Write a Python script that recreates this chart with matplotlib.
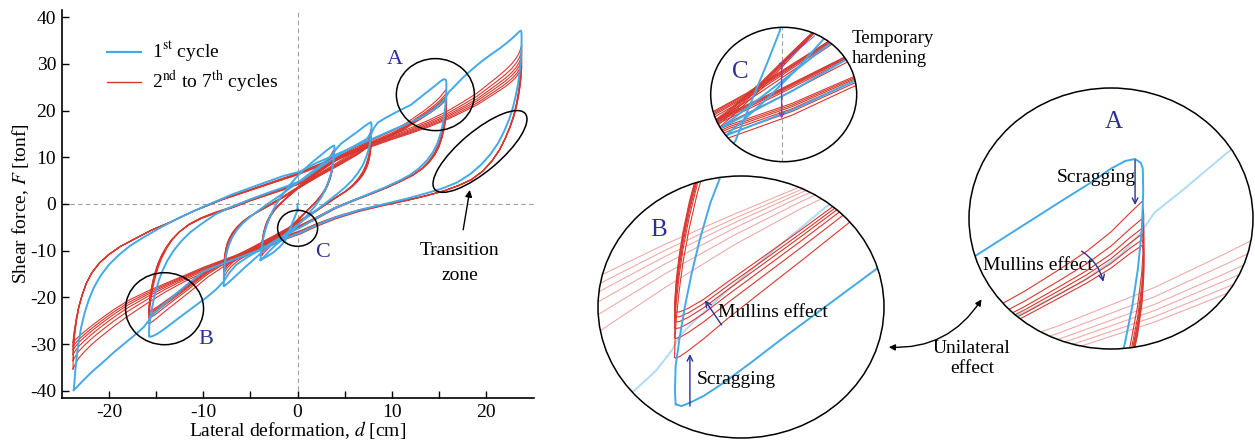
import numpy as np
import matplotlib
matplotlib.use('Agg')
import matplotlib.pyplot as plt
from matplotlib.patches import Ellipse, FancyArrowPatch
from matplotlib.transforms import ScaledTranslation

plt.rcParams['font.family'] = ['Liberation Serif', 'DejaVu Serif']
plt.rcParams['mathtext.fontset'] = 'stix'
plt.rcParams['axes.unicode_minus'] = False

BLUE = '#43a9e8'
RED = '#d9382f'
NAVY = '#2e3192'
PURPLE = '#7d3fc0'

# ------------------------------------------------------------------ data
amps = [4, 8, 16, 24]

# initial loading path of the 1st cycle
blue_init_d = [0.0, -0.02, -0.05, -0.4, -0.85, -1.33, -1.9, -2.6, -3.3, -3.92]
blue_init_F = [0.0, -0.8, -1.5, -3.3, -5.5, -7.9, -9.2, -10.4, -11.3, -12.0]

# 1st cycles (blue): upper branch (-A -> +A) and lower branch (+A -> -A)
blue_up4_d = [-3.92, -3.9, -3.84, -3.74, -3.58, -3.36, -3.06, -2.68, -2.2, -1.6, -0.9, -0.1,
              0.8, 1.7, 2.5, 3.1, 3.5, 3.75, 3.88]
blue_up4_F = [-12.0, -11.0, -9.8, -8.4, -6.8, -5.1, -3.4, -1.6, 0.2, 2.0, 3.9, 5.8,
              7.6, 9.2, 10.5, 11.5, 12.1, 12.4, 12.5]
blue_lo4_d = [3.9, 3.9, 3.87, 3.8, 3.7, 3.52, 3.28, 2.95, 2.5, 1.9, 1.2, 0.4, -0.5, -1.5,
              -2.4, -3.0, -3.45, -3.75, -3.92]
blue_lo4_F = [12.4, 11.6, 10.5, 9.2, 7.8, 6.3, 4.7, 3.1, 1.4, -0.3, -2.0, -3.8, -5.6, -7.4,
              -8.9, -10.1, -11.1, -11.7, -12.0]

blue_up8_d = [-7.82, -7.82, -7.78, -7.7, -7.55, -7.3, -6.95, -6.45, -5.8, -5.0, -4.0, -2.9,
              -1.8, -0.6, 0.5, 1.6, 2.8, 3.6, 4.1, 4.6, 5.4, 6.3, 7.0, 7.5, 7.75]
blue_up8_F = [-17.5, -16.0, -14.3, -12.5, -10.7, -8.9, -7.2, -5.6, -4.1, -2.7, -1.2, 0.4,
              1.9, 3.7, 5.3, 7.0, 8.9, 10.4, 11.8, 12.9, 14.1, 15.4, 16.5, 17.2, 17.5]
blue_lo8_d = [7.82, 7.84, 7.8, 7.7, 7.52, 7.25, 6.88, 6.38, 5.75, 5.0, 4.1, 3.1, 2.0, 0.9,
              -0.1, -1.2, -2.4, -3.6, -4.6, -5.5, -6.3, -7.0, -7.5, -7.75, -7.82]
blue_lo8_F = [17.3, 16.5, 15.0, 13.3, 11.6, 9.9, 8.2, 6.6, 5.0, 3.5, 2.0, 0.4, -1.3, -3.0,
              -4.6, -6.3, -8.1, -10.0, -11.8, -13.4, -14.9, -16.2, -17.1, -17.5, -17.5]

blue_up16_d = [-15.72, -15.74, -15.72, -15.6, -15.45, -15.25, -15.0, -14.7, -14.3, -13.8,
               -13.15, -12.35, -11.35, -10.15, -8.7, -7.0, -5.0, -3.0, -1.0, 0.5,
               2.0, 4.0, 6.0, 7.3, 7.8, 8.1, 8.5, 9.3, 10.5, 12.0,
               13.0, 14.0, 14.7, 15.1, 15.4, 15.6, 15.72]
blue_up16_F = [-28.3, -27.5, -26.0, -24.3, -22.5, -20.5, -18.4, -16.3, -14.2, -12.1,
               -10.0, -8.0, -6.0, -4.2, -2.2, -0.6, 1.0, 2.5, 3.9, 5.1,
               7.3, 10.1, 12.4, 13.9, 15.0, 16.3, 17.4, 18.4, 19.7, 21.2,
               22.8, 24.4, 25.5, 26.2, 26.6, 26.7, 26.5]
blue_lo16_d = [15.76, 15.77, 15.74, 15.66, 15.54, 15.38, 15.15, 14.82, 14.35, 13.7,
               12.9, 11.9, 10.7, 9.2, 7.5, 5.7, 3.7, 2.0, 0.3, -2.0,
               -4.0, -5.5, -6.5, -7.2, -7.8, -8.6, -9.6, -10.6, -11.6, -12.6,
               -13.5, -14.3, -14.9, -15.3, -15.55, -15.7]
blue_lo16_F = [26.2, 25.0, 23.0, 21.0, 19.0, 17.0, 15.0, 13.0, 11.1, 9.3,
               7.7, 6.2, 4.9, 3.5, 2.1, 0.6, -1.1, -3.0, -5.0, -7.4,
               -9.8, -11.6, -13.0, -14.6, -16.5, -18.2, -19.9, -21.4, -22.9, -24.4,
               -25.8, -27.0, -27.8, -28.2, -28.4, -28.3]

blue_up24_d = [-23.72, -23.65, -23.55, -23.4, -23.2, -22.95, -22.6, -22.15, -21.6, -20.9,
               -20.0, -19.0, -17.8, -16.3, -14.5, -12.5, -10.0, -7.0, -4.0, -1.5,
               0.2, 2.0, 4.0, 6.0, 8.0, 10.0, 12.0, 13.3, 14.5, 15.3,
               15.7, 16.0, 16.6, 17.5, 18.6, 19.5, 20.5, 21.5, 22.5, 23.2,
               23.5, 23.65]
blue_up24_F = [-39.8, -38.0, -35.5, -32.5, -29.5, -26.5, -23.5, -20.6, -17.9, -15.4,
               -13.0, -11.0, -9.0, -7.1, -5.0, -2.9, -0.6, 2.0, 4.2, 6.0,
               6.9, 8.8, 10.5, 12.3, 14.0, 15.8, 17.5, 18.7, 20.3, 21.7,
               22.8, 23.9, 25.1, 27.0, 29.0, 30.5, 32.0, 33.4, 35.0, 36.3,
               36.9, 37.1]
blue_lo24_d = [23.72, 23.74, 23.72, 23.65, 23.52, 23.35, 23.1, 22.8, 22.4, 21.9,
               21.3, 20.5, 19.5, 18.3, 16.9, 15.3, 13.5, 11.5, 9.0, 6.5,
               4.0, 2.0, 0.3, -1.5, -4.0, -6.0, -8.0, -10.0, -11.4, -13.0,
               -14.3, -15.2, -15.6, -15.8, -16.3, -17.0, -18.2, -19.4, -20.6, -21.8,
               -22.8, -23.4, -23.72]
blue_lo24_F = [36.8, 35.5, 33.0, 30.5, 28.0, 25.5, 23.0, 20.5, 18.0, 15.6,
               13.2, 10.8, 8.5, 6.4, 4.6, 3.3, 2.2, 1.1, -0.1, -1.3,
               -2.9, -4.5, -6.1, -7.5, -9.8, -11.3, -12.8, -14.5, -16.7, -19.4,
               -21.7, -23.4, -24.2, -25.0, -26.3, -27.6, -29.6, -31.6, -33.8, -35.9,
               -37.9, -39.2, -39.8]

# 2nd cycles (red); cycles 3-7 follow from the peak / bottom values read per cycle
red_up4_d = [-3.8, -3.79, -3.76, -3.7, -3.6, -3.45, -3.22, -2.9, -2.45, -1.85, -1.1, -0.3,
             0.6, 1.5, 2.3, 2.95, 3.4, 3.65, 3.8]
red_up4_F = [-11.0, -10.2, -9.2, -8.1, -6.9, -5.6, -4.2, -2.8, -1.4, 0.0, 1.5, 3.0,
             4.6, 6.2, 7.7, 9.0, 10.1, 10.9, 11.5]
red_lo4_d = [3.8, 3.79, 3.76, 3.7, 3.6, 3.45, 3.22, 2.9, 2.45, 1.85, 1.1, 0.3,
             -0.6, -1.5, -2.3, -2.95, -3.4, -3.65, -3.8]
red_lo4_F = [11.5, 10.7, 9.7, 8.6, 7.4, 6.1, 4.7, 3.2, 1.8, 0.3, -1.3, -3.0,
             -4.9, -6.6, -8.0, -9.2, -10.1, -10.6, -11.0]
peaks4 = [11.5, 11.0, 10.7, 10.4, 10.2, 10.0]
bottoms4 = [-11.0, -10.5, -10.2, -9.9, -9.7, -9.5]

red_up8_d = [-7.8, -7.79, -7.76, -7.7, -7.6, -7.45, -7.22, -6.9, -6.45, -5.85, -5.1, -4.2,
             -3.1, -1.8, -0.4, 1.0, 2.5, 4.0, 5.3, 6.3, 7.0, 7.45, 7.7, 7.8]
red_up8_F = [-16.0, -15.0, -13.8, -12.5, -11.1, -9.7, -8.3, -6.9, -5.5, -4.1, -2.8, -1.6,
             -0.3, 1.3, 3.1, 4.9, 6.8, 8.6, 10.3, 11.7, 13.0, 14.2, 15.3, 16.0]
red_lo8_d = [7.8, 7.79, 7.76, 7.7, 7.6, 7.45, 7.22, 6.9, 6.45, 5.85, 5.1, 4.2,
             3.1, 1.8, 0.4, -1.0, -2.5, -4.0, -5.3, -6.3, -7.0, -7.45, -7.7, -7.8]
red_lo8_F = [16.0, 15.0, 13.8, 12.5, 11.1, 9.7, 8.3, 6.9, 5.5, 4.1, 2.8, 1.5,
             0.0, -1.8, -3.7, -5.6, -7.4, -9.2, -10.8, -12.1, -13.3, -14.4, -15.3, -16.0]
peaks8 = [16.0, 15.2, 14.6, 14.2, 13.8, 13.5]
bottoms8 = [-16.0, -15.0, -14.4, -14.0, -13.6, -13.3]

red_up16_d = [-15.75, -15.74, -15.7, -15.62, -15.5, -15.32, -15.08, -14.78, -14.4, -13.9,
              -13.3, -12.5, -11.5, -10.3, -8.8, -7.0, -5.0, -3.0, -1.0, 0.5,
              2.0, 4.0, 6.0, 8.0, 10.0, 11.5, 12.5, 13.3, 14.0, 14.6,
              15.1, 15.5, 15.75]
red_up16_F = [-25.5, -24.5, -23.2, -21.6, -19.8, -17.8, -15.7, -13.6, -11.6, -9.6,
              -7.7, -5.9, -4.3, -3.0, -1.8, -0.6, 1.0, 2.4, 3.8, 5.0,
              7.0, 9.8, 12.0, 13.8, 15.6, 17.3, 18.7, 19.8, 20.9, 21.9,
              22.9, 23.9, 24.5]
red_lo16_d = [15.75, 15.78, 15.78, 15.74, 15.65, 15.5, 15.28, 14.98, 14.55, 13.95,
              13.2, 12.2, 11.0, 9.5, 7.8, 6.0, 4.0, 2.0, 0.0, -2.0,
              -4.0, -6.0, -8.0, -9.5, -10.7, -12.0, -13.2, -14.2, -14.9, -15.35,
              -15.6, -15.72, -15.75]
red_lo16_F = [24.5, 23.8, 22.5, 20.8, 19.0, 17.0, 15.0, 13.0, 11.1, 9.3,
              7.7, 6.2, 4.9, 3.5, 2.1, 0.7, -1.0, -3.2, -5.3, -7.3,
              -9.4, -11.4, -13.6, -15.6, -17.6, -19.7, -21.6, -23.2, -24.4, -25.1,
              -25.45, -25.55, -25.5]
peaks16 = [24.5, 23.6, 23.1, 22.8, 22.5, 22.2]
bottoms16 = [-25.5, -24.3, -23.7, -23.3, -23.0, -22.7]

red_up24_d = [-23.8, -23.78, -23.72, -23.62, -23.45, -23.2, -22.85, -22.4, -21.8, -21.0,
              -20.0, -18.8, -17.3, -15.5, -13.5, -11.0, -8.0, -5.0, -2.0, 0.0,
              2.0, 4.0, 6.0, 8.0, 10.0, 12.0, 14.0, 16.0, 17.5, 19.0,
              20.0, 21.0, 22.0, 22.7, 23.2, 23.5, 23.65, 23.75]
red_up24_F = [-35.3, -33.0, -30.5, -28.0, -25.2, -22.3, -19.6, -17.0, -14.7, -12.6,
              -10.8, -9.1, -7.5, -5.6, -3.9, -1.5, 1.0, 3.1, 5.2, 6.6,
              8.3, 10.0, 11.6, 13.2, 14.8, 16.3, 18.0, 20.0, 21.8, 23.7,
              25.3, 26.9, 28.6, 30.0, 31.3, 32.4, 33.3, 34.0]
red_lo24_d = [23.75, 23.72, 23.66, 23.55, 23.4, 23.2, 22.9, 22.5, 22.0, 21.4,
              20.6, 19.6, 18.4, 17.0, 15.5, 13.5, 11.5, 9.0, 6.5, 4.0,
              2.0, 0.3, -1.5, -4.0, -6.0, -8.0, -10.0, -12.0, -14.0, -16.0,
              -18.0, -19.5, -20.8, -21.8, -22.6, -23.2, -23.55, -23.8]
red_lo24_F = [34.0, 31.5, 29.0, 26.5, 24.0, 21.6, 19.0, 16.5, 14.0, 11.6,
              9.2, 7.0, 5.2, 3.9, 2.8, 1.7, 0.7, -0.4, -1.6, -3.2,
              -4.8, -6.4, -7.7, -10.0, -11.5, -13.0, -14.7, -16.6, -18.8, -21.3,
              -24.0, -26.2, -28.3, -30.0, -31.6, -33.0, -34.2, -35.3]
peaks24 = [34.0, 32.8, 31.8, 31.0, 30.2, 29.5]
bottoms24 = [-35.3, -33.5, -32.2, -31.2, -30.4, -29.6]

# share of the cycle-to-cycle spread present along each red branch
w_start4 = [1, .9, .8, .7, .6, .5, .4, .3, .2, .1, .04, 0, 0, 0, 0, 0, 0, 0, 0]
w_end4 = [0, 0, 0, 0, 0, 0, 0, 0, .03, .07, .12, .18, .26, .36, .48, .62, .76, .9, 1]
w_start8 = [1, .9, .8, .7, .6, .5, .4, .3, .2, .12, .05, 0, 0, 0, 0, 0, 0, 0, 0, 0, 0, 0, 0, 0]
w_end8 = [0, 0, 0, 0, 0, 0, 0, 0, 0, 0, 0, .03, .06, .1, .14, .18, .23, .3, .38, .48, .6,
          .74, .88, 1]
w_start16 = [1, .92, .84, .75, .65, .55, .45, .35, .25, .16, .08, .03, 0, 0, 0, 0, 0, 0, 0,
             0, 0, 0, 0, 0, 0, 0, 0, 0, 0, 0, 0, 0, 0]
wu_end16 = [0, 0, 0, 0, 0, 0, 0, 0, 0, 0, .02, .04, .06, .08, .1, .12, .14, .16, .18, .2,
            .24, .28, .32, .37, .42, .47, .52, .57, .64, .72, .82, .92, 1]
wl_end16 = [0, 0, 0, 0, 0, 0, 0, 0, 0, 0, 0, 0, .02, .04, .06, .08, .1, .13, .16, .2,
            .25, .32, .42, .52, .6, .66, .72, .78, .84, .9, .95, .98, 1]
wu_start24 = [1, .7, .45, .25, .12, .05] + [0] * 32
wu_end24 = [0] * 16 + [.02, .04, .06, .08, .1, .12, .15, .18, .22, .26, .32, .4, .47, .56,
                       .63, .7, .78, .84, .9, .94, .97, 1]
wl_start24 = [1, .75, .55, .38, .25, .15, .08, .03] + [0] * 30
wl_end24 = [0] * 16 + [.02, .04, .06, .08, .1, .12, .13, .15, .16, .17, .2, .23, .32, .45,
                       .58, .63, .67, .7, .75, .82, .9, 1]


def red_cycles(up_d, up_F, lo_d, lo_F, peaks, bottoms, wus, wue, wls, wle):
    arrs = [up_d, up_F, lo_d, lo_F, wus, wue, wls, wle]
    assert len(set(len(a) for a in arrs)) == 1
    up_F = np.asarray(up_F, float)
    lo_F = np.asarray(lo_F, float)
    loops = []
    for k in range(len(peaks)):
        dp = peaks[k] - peaks[0]
        db = bottoms[k] - bottoms[0]
        fu = up_F + np.asarray(wus) * db + np.asarray(wue) * dp
        fl = lo_F + np.asarray(wls) * dp + np.asarray(wle) * db
        loops.append((np.r_[up_d, lo_d], np.r_[fu, fl]))
    return loops


red_loops = {
    4: red_cycles(red_up4_d, red_up4_F, red_lo4_d, red_lo4_F, peaks4, bottoms4,
                  w_start4, w_end4, w_start4, w_end4),
    8: red_cycles(red_up8_d, red_up8_F, red_lo8_d, red_lo8_F, peaks8, bottoms8,
                  w_start8, w_end8, w_start8, w_end8),
    16: red_cycles(red_up16_d, red_up16_F, red_lo16_d, red_lo16_F, peaks16, bottoms16,
                   w_start16, wu_end16, w_start16, wl_end16),
    24: red_cycles(red_up24_d, red_up24_F, red_lo24_d, red_lo24_F, peaks24, bottoms24,
                   wu_start24, wu_end24, wl_start24, wl_end24),
}
blue_loops = {
    4: (blue_up4_d + blue_lo4_d, blue_up4_F + blue_lo4_F),
    8: (blue_up8_d + blue_lo8_d, blue_up8_F + blue_lo8_F),
    16: (blue_up16_d + blue_lo16_d, blue_up16_F + blue_lo16_F),
    24: (blue_up24_d + blue_lo24_d, blue_up24_F + blue_lo24_F),
}


def draw_loops(a, focus=None, clip=None, lw_r=0.8, lw_b=1.4):
    arts = []
    for amp in amps:
        light = focus is not None and amp != focus
        al = 0.42 if light else 1.0
        zr = 1 if light else 3
        for dd, ff in red_loops[amp]:
            l, = a.plot(dd, ff, color=RED, lw=lw_r, alpha=al, zorder=zr,
                        solid_joinstyle='round')
            arts.append(l)
        dd, ff = blue_loops[amp]
        l, = a.plot(dd, ff, color=BLUE, lw=lw_b, alpha=al, zorder=zr + 1,
                    solid_joinstyle='round')
        arts.append(l)
    al = 0.42 if focus not in (None, 4) else 1.0
    l, = a.plot(blue_init_d, blue_init_F, color=BLUE, lw=lw_b, alpha=al, zorder=4)
    arts.append(l)
    if clip is not None:
        for l in arts:
            l.set_clip_path(clip)
    return arts


# ------------------------------------------------------------------ figure
W, H = 1255, 442
fig = plt.figure(figsize=(W / 100, H / 100), dpi=100)


def fx(px):
    return px / W


def fy(py):
    return 1 - py / H


ax = fig.add_axes([fx(61.7), fy(398), (533.5 - 61.7) / W, (398 - 10) / H])
ax.axhline(0, color='#a0a0a0', lw=0.8, ls=(0, (4, 3)), zorder=0)
ax.axvline(0, color='#a0a0a0', lw=0.8, ls=(0, (4, 3)), zorder=0)
draw_loops(ax)

ax.set_xlim(-25, 25)
ax.set_ylim(-41.5, 41.5)
ax.set_xticks([-20, -10, 0, 10, 20])
ax.set_xticks([-15, -5, 5, 15], minor=True)
ax.set_yticks(range(-40, 41, 10))
ax.tick_params(which='both', direction='in', length=5, width=1.0, labelsize=14, pad=4)
for s in ['top', 'right']:
    ax.spines[s].set_visible(False)
for s in ['left', 'bottom']:
    ax.spines[s].set_linewidth(1.2)
ax.set_xlabel('Lateral deformation, $d$ [cm]', fontsize=14, labelpad=-1)
ax.set_ylabel('Shear force, $F$ [tonf]', fontsize=14, labelpad=-1)

# legend
ax.plot([0.0968, 0.1675], [0.8925, 0.8925], transform=ax.transAxes, color=BLUE, lw=1.6)
ax.plot([0.0968, 0.1675], [0.8137, 0.8137], transform=ax.transAxes, color=RED, lw=1.0)
ax.text(0.192, 0.8925, '1$^{\\mathrm{st}}$ cycle', transform=ax.transAxes, fontsize=14,
        va='center', ha='left')
ax.text(0.192, 0.8137, '2$^{\\mathrm{nd}}$ to 7$^{\\mathrm{th}}$ cycles',
        transform=ax.transAxes, fontsize=14, va='center', ha='left')


def px_ellipse(a, d, F, w, h, angle=0.0):
    tr = fig.dpi_scale_trans + ScaledTranslation(d, F, a.transData)
    e = Ellipse((0, 0), w / 100, h / 100, angle=angle, transform=tr, fill=False,
                ec='black', lw=1.1, zorder=6, clip_on=False)
    a.add_artist(e)


px_ellipse(ax, 14.6, 23.4, 78, 72)
px_ellipse(ax, -14.1, -22.4, 78, 72)
px_ellipse(ax, 0.0, -5.2, 40, 36)
px_ellipse(ax, 19.33, 11.24, 118, 40, angle=40)
ax.text(10.3, 31.0, 'A', color=NAVY, fontsize=16, ha='center', va='center')
ax.text(-9.7, -28.9, 'B', color=NAVY, fontsize=16, ha='center', va='center')
ax.text(2.6, -10.3, 'C', color=NAVY, fontsize=16, ha='center', va='center')
ax.annotate('', xy=(18.3, 3.6), xytext=(17.5, -6.1),
            arrowprops=dict(arrowstyle='-|>', color='black', lw=1.0, mutation_scale=10))
ax.text(17.2, -10.0, 'Transition', fontsize=14, ha='center', va='center')
ax.text(17.2, -15.2, 'zone', fontsize=14, ha='center', va='center')


# ------------------------------------------------------------------ insets
def make_inset(box, xlim, ylim, focus):
    x0, y0, x1, y1 = box
    iax = fig.add_axes([fx(x0), fy(y1), (x1 - x0) / W, (y1 - y0) / H])
    iax.set_xlim(xlim)
    iax.set_ylim(ylim)
    iax.axis('off')
    clip = Ellipse((0.5, 0.5), 1, 1, transform=iax.transAxes, facecolor='none')
    draw_loops(iax, focus, clip)
    iax.add_artist(Ellipse((0.5, 0.5), 1, 1, transform=iax.transAxes, fill=False,
                           ec='black', lw=1.1, zorder=10, clip_on=False))
    return iax, clip


# inset C
axC, clipC = make_inset((710.7, 27.3, 856.7, 161.7), (-2.04, 2.16), (-9.1, -1.3), None)
vl = axC.axvline(0, color='#a0a0a0', lw=0.8, ls=(0, (4, 3)), zorder=0)
vl.set_clip_path(clipC)
pl, = axC.plot([0.0, 0.95], [-3.4, -1.8], color=PURPLE, lw=0.6, zorder=8)
pl.set_clip_path(clipC)
axC.annotate('', xy=(0.0, -6.6), xytext=(0.0, -3.4),
             arrowprops=dict(arrowstyle=']->,widthA=0.25,lengthA=0', color=PURPLE,
                             lw=1.0, mutation_scale=8, shrinkA=0, shrinkB=0), zorder=9)
fig.text(fx(740), fy(71.7), 'C', color=NAVY, fontsize=18, ha='center', va='center')
fig.text(fx(851.7), fy(48.5), 'Temporary\nhardening', fontsize=13.5, ha='left',
         va='center', linespacing=1.3)

# inset B
axB, clipB = make_inset((598, 176, 884, 438), (-18.0, -9.6), (-30.3, -14.7), 16)
axB.annotate('', xy=(-15.3, -25.3), xytext=(-15.3, -28.4),
             arrowprops=dict(arrowstyle='->', color=NAVY, lw=1.0, shrinkA=0, shrinkB=0),
             zorder=9)
axB.annotate('', xy=(-14.86, -22.1), xytext=(-14.37, -23.57),
             arrowprops=dict(arrowstyle='->', color=NAVY, lw=1.0, shrinkA=0, shrinkB=0),
             zorder=9)
fig.text(fx(658.3), fy(230), 'B', color=NAVY, fontsize=18, ha='center', va='center')
fig.text(fx(696.7), fy(380), 'Scragging', fontsize=14, ha='left', va='center')
fig.text(fx(718), fy(312.7), 'Mullins effect', fontsize=14, ha='left', va='center')

# inset A
axA, clipA = make_inset((969, 88, 1253, 349), (12.15, 18.05), (16.8, 30.4), 16)
axA.annotate('', xy=(15.6, 24.3), xytext=(15.6, 26.65),
             arrowprops=dict(arrowstyle='->', color=NAVY, lw=1.0, shrinkA=0, shrinkB=0),
             zorder=9)
axA.annotate('', xy=(14.94, 20.3), xytext=(14.49, 21.9),
             arrowprops=dict(arrowstyle='->', color=NAVY, lw=1.0, shrinkA=0, shrinkB=0,
                             connectionstyle='arc3,rad=-0.2'), zorder=9)
fig.text(fx(1114), fy(121.7), 'A', color=NAVY, fontsize=18, ha='center', va='center')
fig.text(fx(1056.7), fy(177.7), 'Scragging', fontsize=14, ha='left', va='center')
fig.text(fx(983), fy(265.7), 'Mullins effect', fontsize=14, ha='left', va='center')

# unilateral effect
fig.text(fx(972), fy(358.5), 'Unilateral\neffect', fontsize=14, ha='center', va='center',
         linespacing=1.25)
fig.patches.append(FancyArrowPatch(
    (fx(886), fy(347)), (fx(983), fy(297)), transform=fig.transFigure,
    arrowstyle='<|-|>', mutation_scale=9, color='black', lw=1.0,
    connectionstyle='arc3,rad=0.3'))

fig.savefig('out.png', dpi=100)
